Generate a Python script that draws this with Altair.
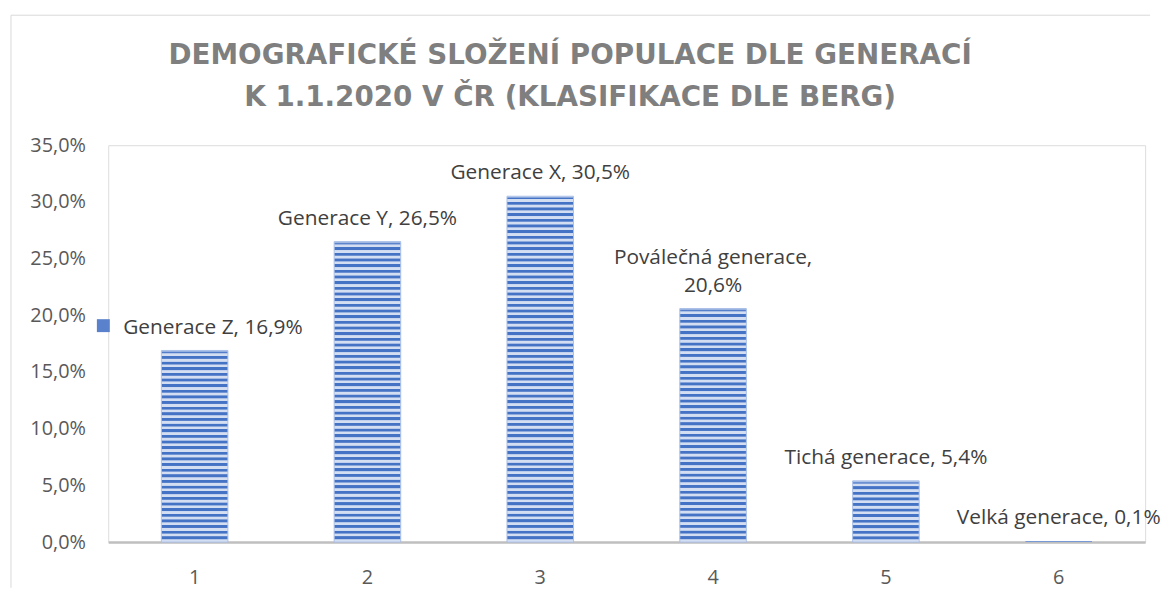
import altair as alt
import pandas as pd

categories = ["1", "2", "3", "4", "5", "6"]
values = [0.169, 0.265, 0.305, 0.206, 0.054, 0.001]
labels = [
    "Generace Z, 16,9%",
    "Generace Y, 26,5%",
    "Generace X, 30,5%",
    "Poválečná generace,\n20,6%",
    "Tichá generace, 5,4%",
    "Velká generace, 0,1%",
]
title_lines = ["DEMOGRAFICKÉ SLOŽENÍ POPULACE DLE GENERACÍ",
               "K 1.1.2020 V ČR (KLASIFIKACE DLE BERG)"]

df = pd.DataFrame({"idx": list(range(6)), "cat": categories, "val": values, "label": labels})
df["lines"] = df["label"].str.count("\n") + 1

W, H = 1045, 400
YMAX = 0.35
DARK = "#4472c4"
LIGHT = "#d3def3"

x_enc = alt.X("cat:N", sort=categories,
              scale=alt.Scale(paddingInner=0.615, paddingOuter=0.3075),
              axis=alt.Axis(title=None, labelAngle=0, ticks=False, labelPadding=26,
                            labelFontSize=20, labelFont="Open Sans", labelColor="#595959",
                            domainColor="#bfbfbf", domainWidth=2.5))
y_enc = alt.Y("val:Q", scale=alt.Scale(domain=[0, YMAX], nice=False),
              axis=alt.Axis(title=None, values=[0, 0.05, 0.1, 0.15, 0.2, 0.25, 0.3, 0.35],
                            labelExpr="replace(format(datum.value, '.1%'), '.', ',')",
                            grid=False, domain=False, ticks=False, labelPadding=23,
                            labelFontSize=20, labelFont="Open Sans", labelColor="#595959"))

base = alt.Chart(df)


def stripes(v):
    hpx = v / YMAX * H
    n = max(1, round(hpx / 5.7))
    stops = []
    for k in range(n):
        stops.append(alt.GradientStop(offset=(k + 0.02) / n, color=LIGHT if k == 0 else DARK))
        stops.append(alt.GradientStop(offset=(k + 0.40) / n, color=DARK))
        stops.append(alt.GradientStop(offset=(k + 0.58) / n, color=LIGHT))
        stops.append(alt.GradientStop(offset=(k + 0.95) / n, color=LIGHT))
    return alt.Gradient(gradient="linear", stops=stops, x1=0, y1=0, x2=0, y2=1)


bar_layers = []
for i, v in enumerate(values):
    big = v > 0.01
    bar_layers.append(
        base.transform_filter(alt.datum.idx == i)
        .mark_bar(color=stripes(v), stroke="#a9bfe8" if big else "#dfe7f6",
                  strokeWidth=1 if big else 0)
        .encode(x=x_enc, y=y_enc)
    )

text_kw = dict(baseline="bottom", fontSize=21, font="Open Sans", color="#404040",
               lineBreak="\n", lineHeight=28)

text_one = base.transform_filter((alt.datum.idx > 0) & (alt.datum.lines == 1)).mark_text(
    align="center", dy=-13, **text_kw
).encode(x=x_enc, y=y_enc, text="label:N")

text_two = base.transform_filter(alt.datum.lines == 2).mark_text(
    align="center", dy=-41, **text_kw
).encode(x=x_enc, y=y_enc, text="label:N")

text_z = base.transform_filter(alt.datum.idx == 0).mark_text(
    align="left", dx=-72, dy=-13, **text_kw
).encode(x=x_enc, y=y_enc, text="label:N")

key_z = base.transform_filter(alt.datum.idx == 0).mark_square(
    size=170, xOffset=-92, yOffset=-25, color="#5a82cc", opacity=1
).encode(x=x_enc, y=y_enc)

frame_data = alt.Data(values=[{"f": 1}])
frame_left = alt.Chart(frame_data).mark_rule(color="#d9d9d9", strokeWidth=1).encode(
    x=alt.value(-98), y=alt.value(-131), y2=alt.value(446))
frame_top = alt.Chart(frame_data).mark_rule(color="#d9d9d9", strokeWidth=1).encode(
    x=alt.value(-98), x2=alt.value(1050), y=alt.value(-131))

chart = alt.layer(
    frame_left, frame_top, *bar_layers, text_one, text_two, text_z, key_z
).properties(
    width=W, height=H,
    padding={"left": 2, "top": 4, "right": 0, "bottom": 0},
    title=alt.TitleParams(text=title_lines, font="DejaVu Sans", fontSize=28,
                          fontWeight="bold", color="#7f7f7f", lineHeight=42,
                          anchor="middle", frame="group", dx=-57, offset=-98),
).configure_view(stroke=None).configure(background="white")

chart.save("out.html", embed_options={"renderer": "svg", "actions": False})
